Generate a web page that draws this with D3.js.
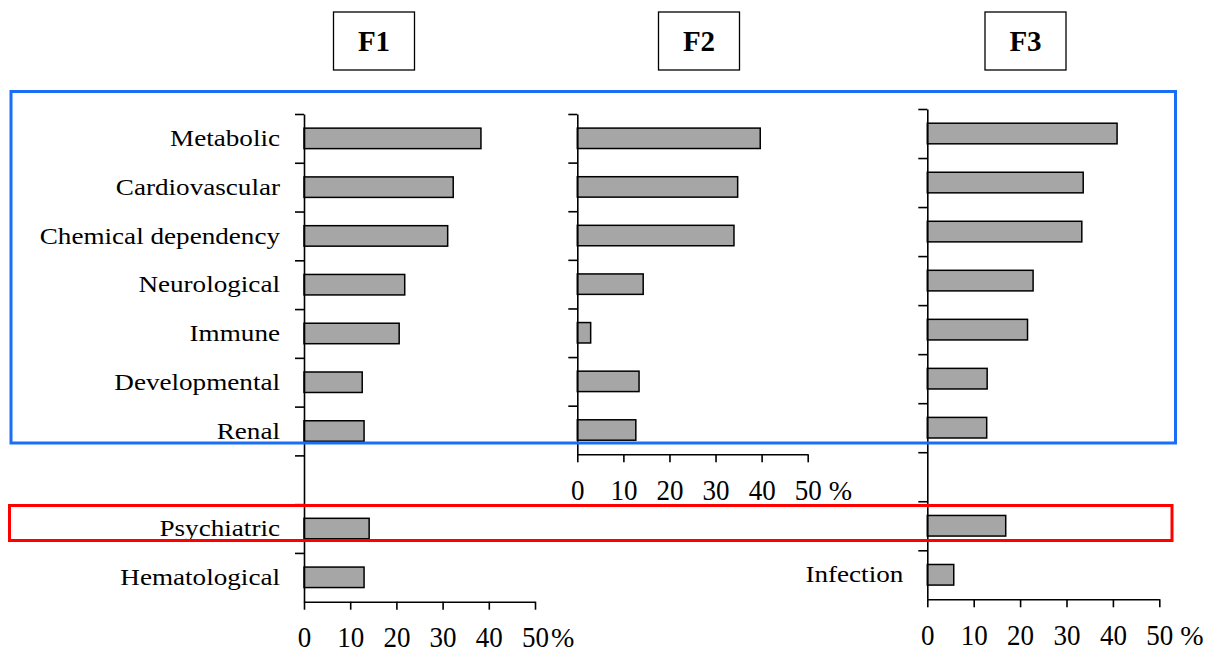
<!DOCTYPE html>
<html>
<head>
<meta charset="utf-8">
<script src="https://cdn.jsdelivr.net/npm/d3@7"></script>
<style>
  body { margin: 0; background: #fff; }
  text { font-family: "Liberation Serif", "Times New Roman", serif; fill: #000; }
</style>
</head>
<body>
<div id="chart"></div>
<script>
// categories per panel (empty string = blank row)
var categoriesF1 = ["Metabolic", "Cardiovascular", "Chemical dependency", "Neurological", "Immune",
                    "Developmental", "Renal", "", "Psychiatric", "Hematological"]
var categoriesF2 = ["Metabolic", "Cardiovascular", "Chemical dependency", "Neurological", "Immune",
                    "Developmental", "Renal"]
var categoriesF3 = ["Metabolic", "Cardiovascular", "Chemical dependency", "Neurological", "Immune",
                    "Developmental", "Renal", "", "Psychiatric", "Infection"]

// percentages
var valuesF1 = [38.3, 32.3, 31.1, 21.8, 20.6, 12.6, 13.0, null, 14.1, 13.0]
var valuesF2 = [39.7, 34.8, 34.0, 14.3, 2.9, 13.4, 12.7]
var valuesF3 = [40.9, 33.6, 33.3, 22.8, 21.6, 12.9, 12.8, null, 16.9, 5.7]

// which category names get written beside each panel
var labelsF1 = categoriesF1
var labelsF2 = []
var labelsF3 = ["Infection"]

var titles = ["F1", "F2", "F3"]
var xTicks = [0, 10, 20, 30, 40, 50]

var width = 1219, height = 652

var svg = d3.select("#chart")
    .append("svg")
    .attr("width", width)
    .attr("height", height)

// panel placement
var panels = [
    {title: titles[0], cats: categoriesF1, vals: valuesF1, labels: labelsF1,
     left: 304, right: 535, top: 114, bottom: 601.7, boxX: 333.5, pctDx: 16},
    {title: titles[1], cats: categoriesF2, vals: valuesF2, labels: labelsF2,
     left: 577.3, right: 807.7, top: 114, bottom: 454.3, boxX: 658.5, pctDx: 21},
    {title: titles[2], cats: categoriesF3, vals: valuesF3, labels: labelsF3,
     left: 927.3, right: 1159.3, top: 109, bottom: 599.3, boxX: 985, pctDx: 21}
]

panels.forEach(function(p) {
    var n = p.cats.length
    var g = svg.append("g")

    var x = d3.scaleLinear()
        .domain([0, 50])
        .range([p.left, p.right])

    var y = d3.scaleBand()
        .domain(d3.range(n))
        .range([p.top, p.bottom])
        .paddingInner(0.58)
        .paddingOuter(0.29)

    // boundaries between rows, for the little ticks on the left axis
    var yEdge = d3.scaleLinear()
        .domain([0, n])
        .range([p.top, p.bottom])

    // bars
    g.selectAll("rect.bar")
        .data(p.vals.map(function(v, i) { return {v: v, i: i} })
                .filter(function(d) { return d.v != null }))
        .enter()
        .append("rect")
        .attr("class", "bar")
        .attr("x", x(0))
        .attr("y", function(d) { return y(d.i) })
        .attr("width", function(d) { return x(d.v) - x(0) })
        .attr("height", y.bandwidth())
        .style("fill", "#a6a6a6")
        .style("stroke", "#000")
        .style("stroke-width", 1.5)

    // left axis
    var yAxis = g.append("g")
        .attr("transform", "translate(" + x(0) + ",0)")
        .call(d3.axisLeft(yEdge)
            .tickValues(d3.range(n))
            .tickSize(9)
            .tickSizeOuter(0)
            .tickFormat(""))
    yAxis.selectAll("path, line").attr("stroke", "#000").attr("stroke-width", 1.6)

    // bottom axis
    var xAxis = g.append("g")
        .attr("transform", "translate(0," + p.bottom + ")")
        .call(d3.axisBottom(x)
            .tickValues(xTicks)
            .tickSize(8)
            .tickSizeOuter(0)
            .tickPadding(16))
    xAxis.selectAll("path, line").attr("stroke", "#000").attr("stroke-width", 1.6)
    xAxis.selectAll("text")
        .style("font-family", "'Liberation Serif', serif")
        .style("font-size", "30px")
        .attr("fill", "#000")
        .attr("transform", "scale(0.9,1)")

    g.append("text")
        .attr("x", x(50) + p.pctDx)
        .attr("y", p.bottom + 45.3)
        .style("font-size", "28px")
        .text("%")

    // category labels
    p.cats.forEach(function(c, i) {
        if (c === "" || p.labels.indexOf(c) < 0) return
        g.append("text")
            .attr("transform", "translate(" + (x(0) - 24) + "," + (y(i) + y.bandwidth() / 2) + ") scale(1.18,1)")
            .attr("text-anchor", "end")
            .attr("dy", "0.33em")
            .style("font-size", "23px")
            .text(c)
    })

    // title box
    svg.append("rect")
        .attr("x", p.boxX)
        .attr("y", 12)
        .attr("width", 81)
        .attr("height", 58)
        .style("fill", "#fff")
        .style("stroke", "#000")
        .style("stroke-width", 1.3)
    svg.append("text")
        .attr("x", p.boxX + 40.5)
        .attr("y", 51)
        .attr("text-anchor", "middle")
        .style("font-size", "29px")
        .style("font-weight", "bold")
        .text(p.title)
})

// highlight frames
svg.append("rect")
    .attr("x", 11).attr("y", 91.5)
    .attr("width", 1164.5).attr("height", 351.5)
    .style("fill", "none")
    .style("stroke", "#1a6ef5")
    .style("stroke-width", 3)
svg.append("rect")
    .attr("x", 9.5).attr("y", 505.5)
    .attr("width", 1162.5).attr("height", 35)
    .style("fill", "none")
    .style("stroke", "#ff0000")
    .style("stroke-width", 3)
</script>
</body>
</html>
